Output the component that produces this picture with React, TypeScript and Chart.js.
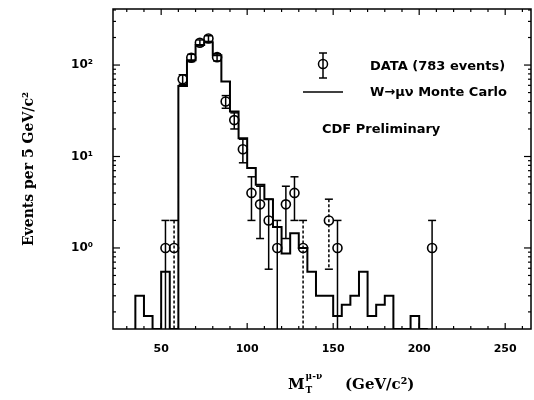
import React, { useEffect, useRef } from 'react';
import { Chart, registerables } from 'chart.js';
Chart.register(...registerables);

// ---- data ----
const mcBinLow = [35, 40, 45, 50, 55, 60, 65, 70, 75, 80, 85, 90, 95, 100, 105, 110, 115, 120, 125, 130, 135, 140, 145, 150, 155, 160, 165, 170, 175, 180, 185, 190, 195, 200];
const mcCounts = [0.30, 0.18, 0, 0.55, 0, 59, 113, 166, 178, 128, 66, 31, 15.8, 7.5, 4.9, 3.4, 1.7, 0.87, 1.45, 1.0, 0.55, 0.30, 0.30, 0.18, 0.24, 0.30, 0.55, 0.18, 0.24, 0.30, 0, 0, 0.18, 0];
const binWidth = 5;

const dataX = [52.5, 57.5, 62.5, 67.5, 72.5, 77.5, 82.5, 87.5, 92.5, 97.5, 102.5, 107.5, 112.5, 117.5, 122.5, 127.5, 132.5, 147.5, 152.5, 207.5];
const dataN = [1, 1, 70, 120, 175, 195, 122, 40, 25, 12, 4, 3, 2, 1, 3, 4, 1, 2, 1, 1];
const dashedErrX = [57.5, 132.5, 147.5];

const xTickValues = [50, 100, 150, 200, 250];
const yTickValues = [1, 10, 100];
const yTickLabels = ['10\u2070', '10\u00B9', '10\u00B2'];

const X_MIN = 22;
const X_MAX = 265;
const Y_MIN = 0.13;
const Y_MAX = 410;

const SANS = '"DejaVu Sans", sans-serif';
const SERIF = '"DejaVu Serif", serif';

function seg(ctx: CanvasRenderingContext2D, x1: number, y1: number, x2: number, y2: number) {
  ctx.beginPath();
  ctx.moveTo(x1, y1);
  ctx.lineTo(x2, y2);
  ctx.stroke();
}

const errorBarPlugin = {
  id: 'errorBars',
  afterDatasetsDraw(chart: any) {
    const { ctx, chartArea: a, scales } = chart;
    const x = scales.x, y = scales.y;
    ctx.save();
    ctx.beginPath();
    ctx.rect(a.left, a.top, a.right - a.left, a.bottom - a.top);
    ctx.clip();
    ctx.strokeStyle = '#000';
    ctx.lineWidth = 1.5;
    dataX.forEach((xv, i) => {
      const n = dataN[i];
      const e = Math.sqrt(n);
      const lo = n - e;
      const hi = n + e;
      const px = x.getPixelForValue(xv);
      const pHi = y.getPixelForValue(hi);
      const pLo = lo > 0 ? y.getPixelForValue(lo) : a.bottom;
      ctx.setLineDash(dashedErrX.includes(xv) ? [3, 2] : []);
      seg(ctx, px, pHi, px, pLo);
      ctx.setLineDash([]);
      seg(ctx, px - 4, pHi, px + 4, pHi);
      if (lo > 0) seg(ctx, px - 4, pLo, px + 4, pLo);
    });
    ctx.restore();
  },
};

const framePlugin = {
  id: 'frame',
  afterDraw(chart: any) {
    const { ctx, chartArea: a, scales } = chart;
    const x = scales.x, y = scales.y;
    ctx.save();
    ctx.strokeStyle = '#000';
    ctx.lineWidth = 1.5;
    ctx.strokeRect(a.left, a.top, a.right - a.left, a.bottom - a.top);
    ctx.lineWidth = 1.2;
    for (let v = 30; v <= X_MAX; v += 10) {
      const px = x.getPixelForValue(v);
      const len = v % 50 === 0 ? 6 : 3;
      seg(ctx, px, a.bottom, px, a.bottom - len);
      seg(ctx, px, a.top, px, a.top + len);
    }
    for (let e = -1; e <= 2; e++) {
      for (let m = 1; m <= 9; m++) {
        const v = m * Math.pow(10, e);
        if (v < Y_MIN || v > Y_MAX) continue;
        const py = y.getPixelForValue(v);
        const len = m === 1 ? 7 : 3;
        seg(ctx, a.left, py, a.left + len, py);
        seg(ctx, a.right, py, a.right - len, py);
      }
    }

    // legend
    ctx.lineWidth = 1.5;
    const lx = 323;
    seg(ctx, lx, 53, lx, 78);
    seg(ctx, lx - 4, 53, lx + 4, 53);
    seg(ctx, lx - 4, 78, lx + 4, 78);
    ctx.beginPath();
    ctx.arc(lx, 64, 4.5, 0, Math.PI * 2);
    ctx.stroke();
    seg(ctx, 303, 92, 343, 92);

    ctx.fillStyle = '#000';
    ctx.font = `bold 13px ${SANS}`;
    ctx.textAlign = 'left';
    ctx.textBaseline = 'middle';
    ctx.fillText('DATA (783 events)', 370, 67);
    ctx.fillText('W\u2192\u03BC\u03BD Monte Carlo', 370, 93);
    ctx.fillText('CDF Preliminary', 322, 130);

    // x axis title
    ctx.textBaseline = 'alphabetic';
    ctx.font = `bold 15px ${SERIF}`;
    ctx.fillText('M', 288, 389);
    const mw = ctx.measureText('M').width;
    ctx.font = `bold 9px ${SERIF}`;
    ctx.fillText('T', 288 + mw + 1, 393);
    ctx.fillText('\u03BC-\u03BD', 288 + mw + 1, 379);
    ctx.font = `bold 15px ${SERIF}`;
    ctx.fillText('(GeV/c\u00B2)', 345, 389);
    ctx.restore();
  },
};

export default function App() {
  const ref = useRef<HTMLCanvasElement>(null);
  useEffect(() => {
    if (!ref.current) return;
    const mcPoints: { x: number; y: number }[] = [{ x: mcBinLow[0], y: Y_MIN }];
    mcBinLow.forEach((lo, i) => {
      mcPoints.push({ x: lo, y: mcCounts[i] > 0 ? mcCounts[i] : Y_MIN });
    });
    mcPoints.push({ x: mcBinLow[mcBinLow.length - 1] + binWidth, y: Y_MIN });
    const dataPoints = dataX.map((xv, i) => ({ x: xv, y: dataN[i] }));

    const chart = new Chart(ref.current, {
      type: 'line',
      data: {
        datasets: [
          {
            label: 'DATA',
            data: dataPoints,
            showLine: false,
            pointStyle: 'circle',
            pointRadius: 4.5,
            pointBorderWidth: 1.6,
            pointBorderColor: '#000',
            pointBackgroundColor: 'rgba(0,0,0,0)',
          },
          {
            label: 'MC',
            data: mcPoints,
            stepped: 'before',
            borderColor: '#000',
            borderWidth: 2,
            pointRadius: 0,
            fill: false,
          },
        ],
      },
      options: {
        responsive: false,
        animation: false,
        events: [],
        layout: { autoPadding: false, padding: { left: 0, right: 3, top: 9, bottom: 0 } },
        plugins: { legend: { display: false }, tooltip: { enabled: false } },
        scales: {
          x: {
            type: 'linear',
            min: X_MIN,
            max: X_MAX,
            grid: { display: false, drawTicks: false },
            border: { display: false },
            afterBuildTicks: (s: any) => { s.ticks = xTickValues.map((v) => ({ value: v })); },
            afterFit: (s: any) => { s.height = 71; s.paddingLeft = 0; s.paddingRight = 0; },
            ticks: {
              autoSkip: false,
              maxRotation: 0,
              padding: 14,
              color: '#000',
              font: { family: SANS, size: 11, weight: 'bold' },
              callback: (v: any) => String(v),
            },
          },
          y: {
            type: 'logarithmic',
            min: Y_MIN,
            max: Y_MAX,
            grid: { display: false, drawTicks: false },
            border: { display: false },
            afterBuildTicks: (s: any) => { s.ticks = yTickValues.map((v) => ({ value: v })); },
            afterFit: (s: any) => { s.width = 113; s.paddingTop = 0; s.paddingBottom = 0; },
            ticks: {
              autoSkip: false,
              padding: 20,
              color: '#000',
              font: { family: SANS, size: 12, weight: 'bold' },
              callback: (v: any) => {
                const i = yTickValues.indexOf(Number(v));
                return i >= 0 ? yTickLabels[i] : '';
              },
            },
            title: {
              display: true,
              text: 'Events per 5 GeV/c\u00B2',
              color: '#000',
              padding: { top: 21, bottom: 0 },
              font: { family: SERIF, size: 14, weight: 'bold' },
            },
          },
        },
      },
      plugins: [errorBarPlugin, framePlugin],
    });
    return () => chart.destroy();
  }, []);

  return (
    <div style={{ position: 'fixed', left: 0, top: 0, width: 534, height: 400, background: '#fff' }}>
      <canvas ref={ref} width={534} height={400} style={{ width: 534, height: 400, display: 'block' }} />
    </div>
  );
}
